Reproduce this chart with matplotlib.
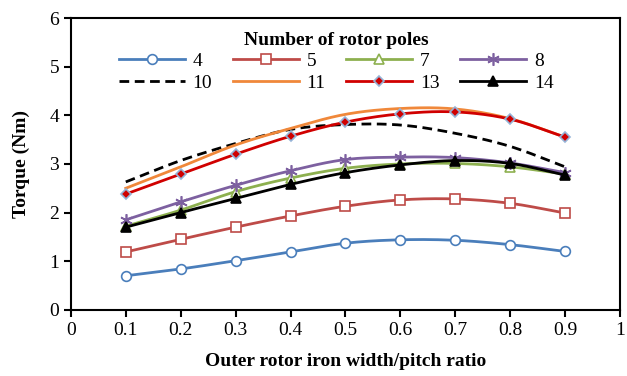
import numpy as np
import matplotlib.pyplot as plt

plt.rcParams['font.family'] = ['Liberation Serif', 'DejaVu Serif']

ratio = [0.1, 0.2, 0.3, 0.4, 0.5, 0.6, 0.7, 0.8, 0.9]

poles_4 = [0.70, 0.84, 1.01, 1.19, 1.37, 1.44, 1.43, 1.34, 1.20]
poles_5 = [1.19, 1.45, 1.70, 1.93, 2.13, 2.26, 2.28, 2.19, 1.99]
poles_7 = [1.72, 2.05, 2.43, 2.71, 2.91, 3.00, 3.01, 2.94, 2.79]
poles_8 = [1.85, 2.22, 2.56, 2.86, 3.09, 3.14, 3.13, 3.02, 2.82]
poles_10 = [2.63, 3.07, 3.42, 3.71, 3.81, 3.80, 3.63, 3.36, 2.94]
poles_11 = [2.50, 2.94, 3.39, 3.73, 4.02, 4.14, 4.13, 3.93, 3.55]
poles_13 = [2.38, 2.79, 3.20, 3.57, 3.86, 4.03, 4.07, 3.92, 3.55]
poles_14 = [1.70, 2.00, 2.29, 2.58, 2.82, 2.98, 3.07, 3.01, 2.77]


def smooth(x, y, n=20):
    # catmull-rom curve through the points, like Excel's smoothed line
    x = np.asarray(x, float)
    y = np.asarray(y, float)
    px = np.concatenate([[2 * x[0] - x[1]], x, [2 * x[-1] - x[-2]]])
    py = np.concatenate([[2 * y[0] - y[1]], y, [2 * y[-1] - y[-2]]])
    t = np.linspace(0, 1, n)
    xs, ys = [], []
    for i in range(1, len(px) - 2):
        for p, out in ((px, xs), (py, ys)):
            p0, p1, p2, p3 = p[i - 1], p[i], p[i + 1], p[i + 2]
            out.extend(0.5 * (2 * p1 + (-p0 + p2) * t
                              + (2 * p0 - 5 * p1 + 4 * p2 - p3) * t ** 2
                              + (-p0 + 3 * p1 - 3 * p2 + p3) * t ** 3))
    return np.array(xs), np.array(ys)


series = [
    ('4', poles_4, dict(color='#4a7ebb', marker='o', mfc='white', mec='#4a7ebb', ms=7, ls='-')),
    ('5', poles_5, dict(color='#be4b48', marker='s', mfc='white', mec='#be4b48', ms=7, ls='-')),
    ('7', poles_7, dict(color='#8db04f', marker='^', mfc='white', mec='#8db04f', ms=7, ls='-')),
    ('8', poles_8, dict(color='#7d60a0', marker=(6, 2, 0), mfc='#7d60a0', mec='#7d60a0', ms=9, ls='-')),
    ('10', poles_10, dict(color='black', marker=None, ls=(0, (3.5, 2)))),
    ('11', poles_11, dict(color='#f0883a', marker=None, ls='-')),
    ('13', poles_13, dict(color='#d00000', marker='D', mfc='#d00000', mec='#95b3d7', ms=5, ls='-')),
    ('14', poles_14, dict(color='black', marker='^', mfc='black', mec='black', ms=7, ls='-')),
]

fig = plt.figure(figsize=(6.27, 3.76), dpi=100)
ax = fig.add_axes([0.113, 0.176, 0.876, 0.776])

handles = []
for name, vals, st in series:
    xs, ys = smooth(ratio, vals)
    ax.plot(xs, ys, color=st['color'], ls=st['ls'], lw=2)
    if st['marker']:
        ax.plot(ratio, vals, ls='none', marker=st['marker'], mfc=st['mfc'],
                mec=st['mec'], ms=st['ms'], mew=1.2)
    h, = ax.plot([], [], color=st['color'], ls=st['ls'], lw=2,
                 marker=st['marker'], mfc=st.get('mfc'), mec=st.get('mec'),
                 ms=st.get('ms', 6), mew=1.2)
    handles.append(h)

ax.set_xlim(0, 1)
ax.set_ylim(0, 6)
ax.set_xticks(np.arange(0, 1.01, 0.1))
ax.set_xticklabels(['0', '0.1', '0.2', '0.3', '0.4', '0.5', '0.6', '0.7', '0.8', '0.9', '1'])
ax.set_yticks(range(7))
ax.tick_params(labelsize=14, width=1.5, length=5, direction='out')
for s in ax.spines.values():
    s.set_linewidth(1.5)

ax.set_xlabel('Outer rotor iron width/pitch ratio', fontsize=14, fontweight='bold', labelpad=10)
ax.set_ylabel('Torque (Nm)', fontsize=14, fontweight='bold', labelpad=14)

# matplotlib fills legend columns first, reorder so rows read 4,5,7,8 / 10,11,13,14
order = [0, 4, 1, 5, 2, 6, 3, 7]
leg = ax.legend([handles[i] for i in order], [series[i][0] for i in order],
                ncol=4, frameon=False,
                loc='upper center', bbox_to_anchor=(0.483, 1.0),
                title='Number of rotor poles', fontsize=14,
                handlelength=3.4, columnspacing=1.05, labelspacing=0.2,
                handletextpad=0.4, borderpad=0.2)
leg.get_title().set_fontweight('bold')
leg.get_title().set_fontsize(14)

plt.savefig('out.png', dpi=100)
